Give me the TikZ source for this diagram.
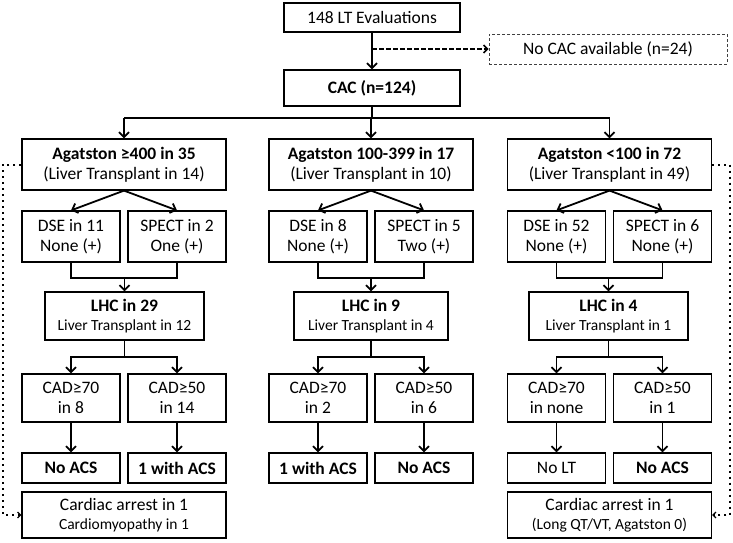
\documentclass[tikz,border=0pt]{standalone}
\usepackage{fontspec}
\setmainfont{Carlito}
\usetikzlibrary{arrows.meta}
\newcommand{\smf}{\fontsize{15.5}{18}\selectfont}
\tikzset{
  bx/.style={draw, line width=1.2pt, inner sep=0pt, align=center, font=\fontsize{17.5}{20}\selectfont},
  ln/.style={line width=1.8pt},
  arr/.style={line width=1.8pt, -{Straight Barb[length=5pt,width=10pt]}},
  darr/.style={line width=1.5pt, dash pattern=on 4.5pt off 2.5pt, -{Straight Barb[length=4pt,width=8pt]}},
  dotl/.style={line width=2pt, dash pattern=on 2pt off 4pt, -{Straight Barb[length=3pt,width=6pt,line width=1.2pt]}},
}
\begin{document}
\begin{tikzpicture}[x=1pt,y=-1pt]
\useasboundingbox (0,0) rectangle (733,542);
% top part
\node[bx, minimum width=176pt, minimum height=29pt] (top) at (372,17.5) {148 LT Evaluations};
\node[bx, draw=black!75, line width=0.8pt, densely dashed, minimum width=238pt, minimum height=30pt] (nocac) at (608,49) {No CAC available (n=24)};
\node[bx, minimum width=176pt, minimum height=36pt] (cac) at (372,88) {\textbf{CAC (n=124)}};
\coordinate (d0) at (372,49);
\draw[arr] (top) -- (cac);
\draw[darr] (d0) -- (nocac);
% Agatston boxes
\node[bx, minimum width=204pt, minimum height=51pt] (ag1) at (124,164.5) {\textbf{Agatston ≥400 in 35}\\(Liver Transplant in 14)};
\node[bx, minimum width=204pt, minimum height=51pt] (ag2) at (371,164.5) {\textbf{Agatston 100-399 in 17}\\(Liver Transplant in 10)};
\node[bx, minimum width=204pt, minimum height=51pt] (ag3) at (609.5,164.5) {\textbf{Agatston <100 in 72}\\(Liver Transplant in 49)};
\coordinate (b0) at (372,118);
\draw[ln] (cac) -- (b0);
\draw[ln] (ag1 |- b0) -- (ag3 |- b0);
% DSE / SPECT
\node[bx, minimum width=98pt, minimum height=51pt] (dse1) at (71,236.5) {DSE in 11\\None (+)};
\node[bx, minimum width=98pt, minimum height=51pt] (sp1) at (177,236.5) {SPECT in 2\\One (+)};
\node[bx, minimum width=98pt, minimum height=51pt] (dse2) at (318,236.5) {DSE in 8\\None (+)};
\node[bx, minimum width=98pt, minimum height=51pt] (sp2) at (424,236.5) {SPECT in 5\\Two (+)};
\node[bx, minimum width=98pt, minimum height=51pt] (dse3) at (556.5,236.5) {DSE in 52\\None (+)};
\node[bx, minimum width=98pt, minimum height=51pt] (sp3) at (662.5,236.5) {SPECT in 6\\None (+)};
% LHC
\node[bx, minimum width=159pt, minimum height=48pt] (lhc1) at (124.5,316) {\textbf{LHC in 29}\\[-1pt]{\smf Liver Transplant in 12}};
\node[bx, minimum width=154pt, minimum height=48pt] (lhc2) at (371,316) {\textbf{LHC in 9}\\[-1pt]{\smf Liver Transplant in 4}};
\node[bx, minimum width=159pt, minimum height=48pt] (lhc3) at (608.5,316) {\textbf{LHC in 4}\\[-1pt]{\smf Liver Transplant in 1}};
% CAD
\node[bx, minimum width=98pt, minimum height=48pt] (c71) at (71,398) {CAD≥70\\in 8};
\node[bx, minimum width=98pt, minimum height=48pt] (c51) at (177,398) {CAD≥50\\in 14};
\node[bx, minimum width=98pt, minimum height=48pt] (c72) at (318,398) {CAD≥70\\in 2};
\node[bx, minimum width=98pt, minimum height=48pt] (c52) at (424,398) {CAD≥50\\in 6};
\node[bx, minimum width=98pt, minimum height=48pt] (c73) at (556.5,398) {CAD≥70\\in none};
\node[bx, minimum width=98pt, minimum height=48pt] (c53) at (662.5,398) {CAD≥50\\in 1};
% ACS
\node[bx, minimum width=98pt, minimum height=30pt] (a71) at (71,468) {\textbf{No ACS}};
\node[bx, minimum width=98pt, minimum height=30pt] (a51) at (177,468) {\textbf{1 with ACS}};
\node[bx, minimum width=98pt, minimum height=30pt] (a72) at (318,468) {\textbf{1 with ACS}};
\node[bx, minimum width=98pt, minimum height=30pt] (a52) at (424,468) {\textbf{No ACS}};
\node[bx, minimum width=98pt, minimum height=30pt] (a73) at (556.5,468) {No LT};
\node[bx, minimum width=98pt, minimum height=30pt] (a53) at (662.5,468) {\textbf{No ACS}};
% Cardiac arrest
\node[bx, minimum width=204pt, minimum height=46pt] (card1) at (124,515) {Cardiac arrest in 1\\[-1pt]{\smf Cardiomyopathy in 1}};
\node[bx, minimum width=204pt, minimum height=46pt] (card3) at (609.5,515) {Cardiac arrest in 1\\[-1pt]{\smf (Long QT/VT, Agatston 0)}};
% connectors per column
\foreach \c in {1,2,3} {
  \draw[arr] (ag\c |- b0) -- (ag\c.north);
  \draw[arr] (ag\c.south) -- (dse\c.north);
  \draw[arr] (ag\c.south) -- (sp\c.north);
  \coordinate (m\c) at ([yshift=-15pt]dse\c.south);
  \draw[ln] (dse\c.south) -- (m\c) -- (m\c -| sp\c) -- (sp\c.south);
  \draw[arr] (m\c -| lhc\c) -- (lhc\c.north);
  \coordinate (s\c) at ([yshift=-16pt]lhc\c.south);
  \draw[ln] (lhc\c.south) -- (s\c);
  \draw[arr] (s\c) -| (c7\c.north);
  \draw[arr] (s\c) -| (c5\c.north);
  \draw[arr] (c7\c) -- (a7\c);
  \draw[arr] (c5\c) -- (a5\c);
}
% dotted side paths
\coordinate (l1) at (3,164.5);
\coordinate (l2) at (3,515);
\coordinate (r1) at (730,164.5);
\coordinate (r2) at (730,515);
\draw[dotl] (ag1.west) -- (l1) -- (l2) -- (card1.west);
\draw[dotl] (ag3.east) -- (r1) -- (r2) -- (card3.east);
\end{tikzpicture}
\end{document}
